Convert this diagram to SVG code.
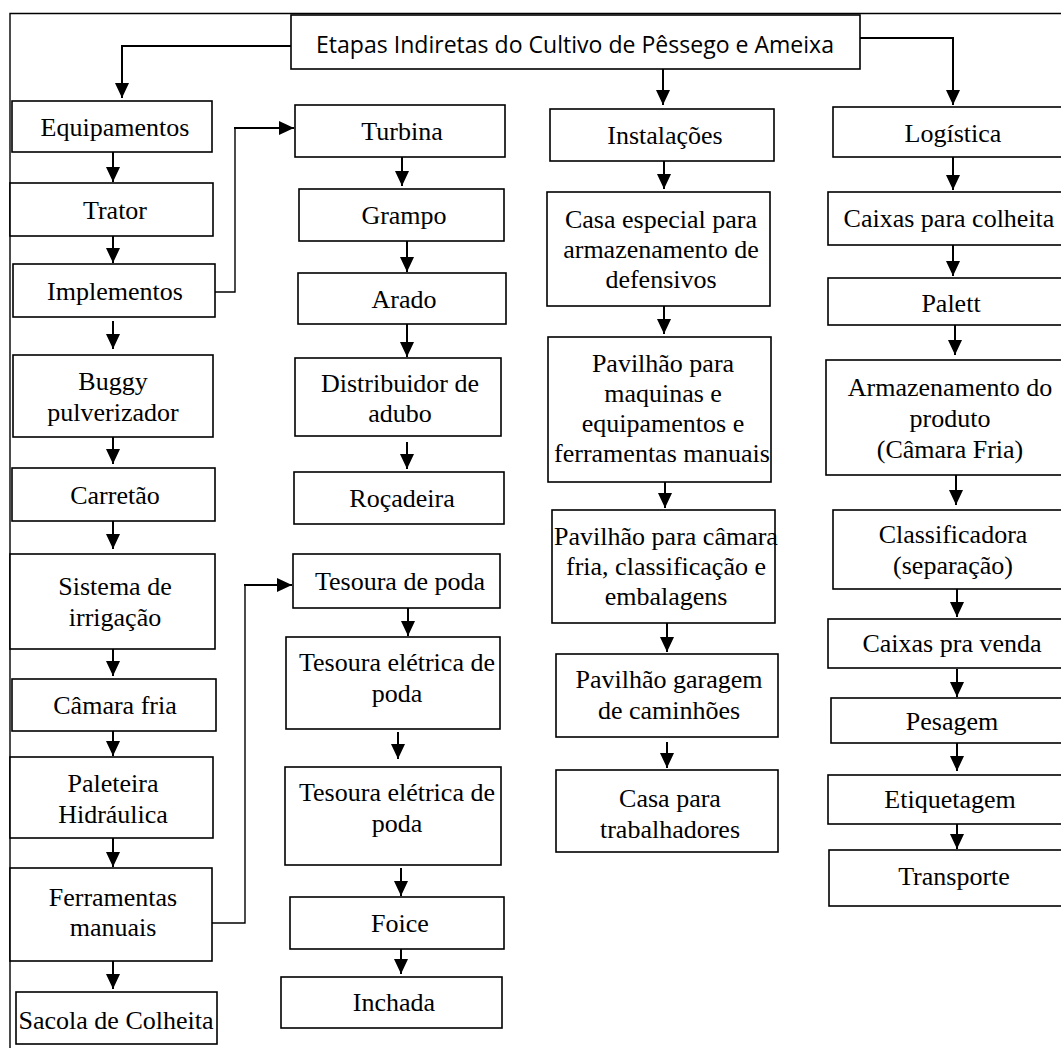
<svg xmlns="http://www.w3.org/2000/svg" width="1061" height="1050" viewBox="0 0 1061 1050">
<style>
.box{fill:#fff;stroke:#000;stroke-width:1.6}
.t{font-family:'Liberation Serif','DejaVu Serif','Times New Roman',serif;font-size:26px;text-anchor:middle;fill:#000}
.tt{font-family:'Open Sans','Liberation Sans',sans-serif;font-size:23px;fill:#000}
.arr{stroke:#000;stroke-width:2;fill:none;marker-end:url(#ah)}
.elb{stroke:#000;stroke-width:1.4;fill:none}
.frame{stroke:#000;stroke-width:1.4;fill:none}
</style>
<defs>
<marker id="ah" markerUnits="userSpaceOnUse" markerWidth="15" markerHeight="14" refX="15" refY="7" orient="auto">
<path d="M0,0 L15,7 L0,14 z" fill="#000"/>
</marker>
</defs>
<rect width="1061" height="1050" fill="#fff"/>
<path class="frame" d="M10,1048 V13.5 H1061"/>

<g id="connectors">
<path class="arr" d="M291,46 H122 V98"/>
<path class="arr" d="M663,69 V105"/>
<path class="arr" d="M860,38 H953 V105"/>
<path class="elb" d="M215,292 H235 V128 H280"/>
<path class="arr" d="M234,128 H294"/>
<path class="elb" d="M212,923 H245 V585 H280"/>
<path class="arr" d="M244,585 H292"/>
<path class="arr" d="M113,152 V182"/>
<path class="arr" d="M113,236 V263"/>
<path class="arr" d="M113,321 V349"/>
<path class="arr" d="M113,437 V464"/>
<path class="arr" d="M113,516 V549"/>
<path class="arr" d="M113,649 V676"/>
<path class="arr" d="M113,728 V756"/>
<path class="arr" d="M113,838 V867"/>
<path class="arr" d="M113,961 V989"/>
<path class="arr" d="M402,157 V186"/>
<path class="arr" d="M407,240 V272"/>
<path class="arr" d="M407,324 V357"/>
<path class="arr" d="M407,442 V469"/>
<path class="arr" d="M408,608 V636"/>
<path class="arr" d="M398,732 V759"/>
<path class="arr" d="M401,868 V896"/>
<path class="arr" d="M401,947 V974"/>
<path class="arr" d="M664,161 V189"/>
<path class="arr" d="M664,306 V334"/>
<path class="arr" d="M665,482 V508"/>
<path class="arr" d="M667,623 V652"/>
<path class="arr" d="M667,742 V768"/>
<path class="arr" d="M953,157 V190"/>
<path class="arr" d="M953,245 V276"/>
<path class="arr" d="M955,325 V355"/>
<path class="arr" d="M956,475 V505"/>
<path class="arr" d="M957,589 V617"/>
<path class="arr" d="M957,669 V697"/>
<path class="arr" d="M957,743 V771"/>
<path class="arr" d="M957,824 V849"/>
</g>

<g id="title"><rect class="box" x="291" y="15" width="569" height="54"/><text class="tt" x="316" y="53" textLength="518" lengthAdjust="spacingAndGlyphs">Etapas Indiretas do Cultivo de Pêssego e Ameixa</text></g>

<g id="equipamentos"><rect class="box" x="12" y="101" width="200" height="51"/><text class="t" x="115" y="136">Equipamentos</text></g>
<g id="trator"><rect class="box" x="10" y="183" width="203" height="53"/><text class="t" x="115" y="219">Trator</text></g>
<g id="implementos"><rect class="box" x="13" y="264" width="202" height="53"/><text class="t" x="115" y="300">Implementos</text></g>
<g id="buggy"><rect class="box" x="13" y="355" width="200" height="82"/><text class="t" x="113"><tspan x="113" y="390">Buggy</tspan><tspan x="113" y="421">pulverizador</tspan></text></g>
<g id="carretao"><rect class="box" x="12" y="468" width="203" height="53"/><text class="t" x="115" y="504">Carretão</text></g>
<g id="irrigacao"><rect class="box" x="10" y="554" width="205" height="95"/><text class="t" x="115"><tspan x="115" y="595">Sistema de</tspan><tspan x="115" y="626">irrigação</tspan></text></g>
<g id="camara"><rect class="box" x="12" y="679" width="204" height="52"/><text class="t" x="115" y="714">Câmara fria</text></g>
<g id="paleteira"><rect class="box" x="10" y="757" width="203" height="81"/><text class="t" x="113"><tspan x="113" y="792">Paleteira</tspan><tspan x="113" y="823">Hidráulica</tspan></text></g>
<g id="ferramentas"><rect class="box" x="10" y="868" width="202" height="93"/><text class="t" x="113"><tspan x="113" y="906">Ferramentas</tspan><tspan x="113" y="936">manuais</tspan></text></g>
<g id="sacola"><rect class="box" x="16" y="992" width="201" height="52"/><text class="t" x="116" y="1029">Sacola de Colheita</text></g>

<g id="turbina"><rect class="box" x="295" y="105" width="210" height="52"/><text class="t" x="402" y="140">Turbina</text></g>
<g id="grampo"><rect class="box" x="299" y="189" width="205" height="52"/><text class="t" x="404" y="224">Grampo</text></g>
<g id="arado"><rect class="box" x="298" y="273" width="208" height="51"/><text class="t" x="404" y="308">Arado</text></g>
<g id="distribuidor"><rect class="box" x="295" y="358" width="206" height="78"/><text class="t" x="400"><tspan x="400" y="392">Distribuidor de</tspan><tspan x="400" y="422">adubo</tspan></text></g>
<g id="rocadeira"><rect class="box" x="294" y="472" width="210" height="52"/><text class="t" x="402" y="507">Roçadeira</text></g>
<g id="tesoura"><rect class="box" x="293" y="554" width="207" height="54"/><text class="t" x="400" y="590">Tesoura de poda</text></g>
<g id="tesoura-eletrica-1"><rect class="box" x="286" y="637" width="214" height="92"/><text class="t" x="397"><tspan x="397" y="671">Tesoura elétrica de</tspan><tspan x="397" y="702">poda</tspan></text></g>
<g id="tesoura-eletrica-2"><rect class="box" x="285" y="767" width="216" height="98"/><text class="t" x="397"><tspan x="397" y="801">Tesoura elétrica de</tspan><tspan x="397" y="832">poda</tspan></text></g>
<g id="foice"><rect class="box" x="290" y="897" width="214" height="52"/><text class="t" x="400" y="932">Foice</text></g>
<g id="inchada"><rect class="box" x="281" y="977" width="221" height="51"/><text class="t" x="394" y="1011">Inchada</text></g>

<g id="instalacoes"><rect class="box" x="550" y="109" width="224" height="52"/><text class="t" x="665" y="144">Instalações</text></g>
<g id="casa-especial"><rect class="box" x="547" y="192" width="223" height="114"/><text class="t" x="661"><tspan x="661" y="228">Casa especial para</tspan><tspan x="661" y="258">armazenamento de</tspan><tspan x="661" y="288">defensivos</tspan></text></g>
<g id="pavilhao-maquinas"><rect class="box" x="548" y="337" width="223" height="145"/><text class="t" x="662"><tspan x="663" y="372">Pavilhão para</tspan><tspan x="663" y="402">maquinas e</tspan><tspan x="663" y="432">equipamentos e</tspan><tspan x="662" y="462">ferramentas manuais</tspan></text></g>
<g id="pavilhao-camara"><rect class="box" x="552" y="510" width="223" height="113"/><text class="t" x="666"><tspan x="666" y="545">Pavilhão para câmara</tspan><tspan x="666" y="575">fria, classificação e</tspan><tspan x="666" y="605">embalagens</tspan></text></g>
<g id="pavilhao-garagem"><rect class="box" x="556" y="654" width="222" height="83"/><text class="t" x="669"><tspan x="669" y="688">Pavilhão garagem</tspan><tspan x="669" y="719">de caminhões</tspan></text></g>
<g id="casa-trabalhadores"><rect class="box" x="556" y="770" width="222" height="82"/><text class="t" x="670"><tspan x="670" y="807">Casa para</tspan><tspan x="670" y="838">trabalhadores</tspan></text></g>

<g id="logistica"><rect class="box" x="833" y="107" width="240" height="50"/><text class="t" x="953" y="142">Logística</text></g>
<g id="caixas-colheita"><rect class="box" x="828" y="192" width="245" height="53"/><text class="t" x="949" y="227">Caixas para colheita</text></g>
<g id="palett"><rect class="box" x="828" y="278" width="245" height="47"/><text class="t" x="951" y="312">Palett</text></g>
<g id="armazenamento"><rect class="box" x="826" y="360" width="247" height="115"/><text class="t" x="950"><tspan x="950" y="396">Armazenamento do</tspan><tspan x="950" y="427">produto</tspan><tspan x="950" y="458">(Câmara Fria)</tspan></text></g>
<g id="classificadora"><rect class="box" x="833" y="510" width="240" height="79"/><text class="t" x="953"><tspan x="953" y="543">Classificadora</tspan><tspan x="953" y="574">(separação)</tspan></text></g>
<g id="caixas-venda"><rect class="box" x="828" y="619" width="245" height="49"/><text class="t" x="952" y="652">Caixas pra venda</text></g>
<g id="pesagem"><rect class="box" x="831" y="698" width="242" height="45"/><text class="t" x="952" y="730">Pesagem</text></g>
<g id="etiquetagem"><rect class="box" x="828" y="775" width="245" height="49"/><text class="t" x="950" y="808">Etiquetagem</text></g>
<g id="transporte"><rect class="box" x="829" y="850" width="244" height="56"/><text class="t" x="954" y="885">Transporte</text></g>
</svg>
